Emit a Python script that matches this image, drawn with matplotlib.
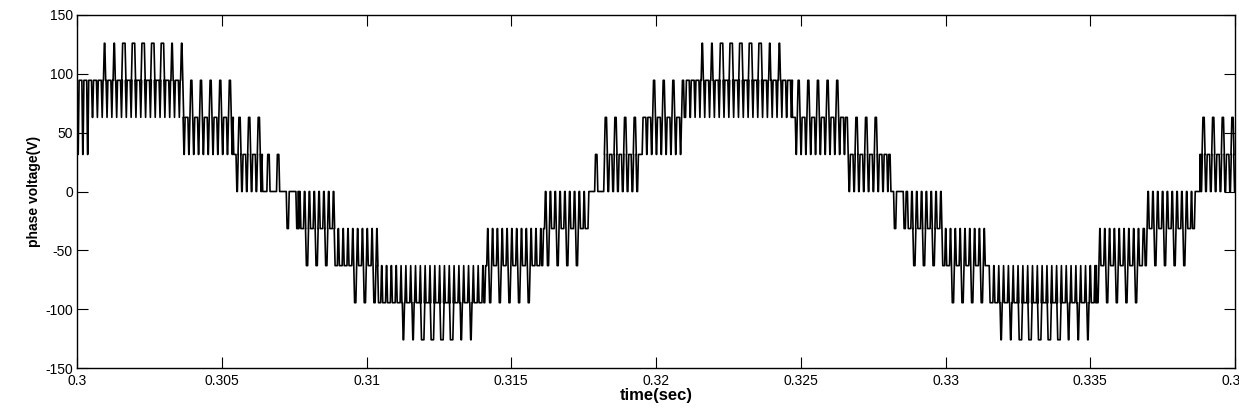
import numpy as np
import matplotlib
matplotlib.use("Agg")
import matplotlib.pyplot as plt

# ---- waveform description (9-level inverter phase voltage) ----
t_origin_s = 0.300          # start of the displayed window
level_step_v = 31.5         # voltage of one cell / level
carrier_period_ms = 0.333   # switching period of the outer pulses
outer_phase = 0.86          # outer pulse position inside a period
inner_phases = [0.11, 0.61] # inner pulses run at twice the rate
ramp_ms = 0.03              # finite edge time of the simulated switch

# segments: start time (ms after t_origin), levels (in cells) and pulse widths (fraction of period)
seg_start_ms = [0.00, 0.40, 0.62, 1.30, 3.00, 3.67, 5.40, 6.40,
                7.25, 7.65, 8.90, 9.30, 10.40, 11.10, 11.80, 13.20, 13.90, 14.10, 15.90, 16.10, 17.40,
                17.70, 18.20, 19.50, 19.65, 21.00, 21.30, 22.00, 23.70, 24.40, 24.70, 26.40, 26.60, 27.90,
                28.10, 28.70, 29.90, 30.10, 31.50, 31.80, 32.50, 34.20, 34.95, 35.20, 36.60, 36.85, 38.40,
                38.60, 38.80]
seg_top = [3, 3, 4, 4, 4, 3, 2, 1,
           0, 0, -1, -1, -2, -2, -2, -2, -2, -1, -1, 0, 0,
           1, 2, 2, 3, 3, 4, 4, 4, 3, 3, 2, 2, 1,
           0, 0, -1, -1, -2, -2, -2, -2, -2, -1, -1, 0, 0,
           1, 2]
seg_mid = [3, 3, 3, 3, 3, 2, 1, 0,
           0, -1, -2, -2, -3, -3, -3, -3, -3, -2, -2, -1, -1,
           0, 1, 2, 2, 3, 3, 3, 3, 3, 2, 2, 1, 1,
           0, -1, -2, -2, -3, -3, -3, -3, -3, -2, -2, -1, -1,
           0, 1]
seg_bot = [1, 2, 2, 2, 2, 1, 0, 0,
           -1, -2, -2, -3, -3, -4, -4, -4, -3, -3, -2, -2, -1,
           0, 0, 1, 1, 2, 2, 2, 2, 2, 1, 1, 0, 0,
           -1, -2, -2, -3, -3, -4, -4, -4, -3, -3, -2, -2, -1,
           0, 0]
# width of the pulses away from zero (outer) and towards zero (inner)
seg_outer_width = [0.14, 0.14, 0.14, 0.34, 0.14, 0.20, 0.22, 0.24,
                   0.22, 0.22, 0.20, 0.22, 0.24, 0.14, 0.34, 0.14, 0.18, 0.20, 0.18, 0.20, 0.18,
                   0.24, 0.22, 0.20, 0.20, 0.18, 0.14, 0.34, 0.14, 0.18, 0.20, 0.18, 0.22, 0.18,
                   0.22, 0.22, 0.20, 0.22, 0.24, 0.14, 0.34, 0.14, 0.18, 0.20, 0.18, 0.20, 0.18,
                   0.24, 0.22]
seg_inner_width = [0.12, 0.12, 0.10, 0.10, 0.10, 0.12, 0.14, 0.14,
                   0.14, 0.14, 0.12, 0.12, 0.12, 0.10, 0.10, 0.10, 0.12, 0.12, 0.12, 0.14, 0.12,
                   0.14, 0.16, 0.12, 0.12, 0.12, 0.10, 0.10, 0.10, 0.12, 0.12, 0.12, 0.14, 0.12,
                   0.14, 0.14, 0.12, 0.12, 0.12, 0.10, 0.10, 0.10, 0.12, 0.12, 0.12, 0.14, 0.12,
                   0.14, 0.16]
window_ms = 40.0

x_ticks = [0.300, 0.305, 0.310, 0.315, 0.320, 0.325, 0.330, 0.335, 0.340]
x_tick_labels = ["0.3", "0.305", "0.31", "0.315", "0.32", "0.325", "0.33", "0.335", "0.34"]
y_ticks = [-150, -100, -50, 0, 50, 100, 150]


def seg_index(t):
    return max(0, int(np.searchsorted(seg_start_ms, t, side="right")) - 1)


def build_waveform():
    T = carrier_period_ms
    pulses = []  # (start, end, level)
    n = int(window_ms / T) + 2
    for k in range(-1, n):
        events = [(outer_phase, "outer")] + [(p, "inner") for p in inner_phases]
        for phase, kind in events:
            c = (k + phase) * T
            if c < 0 or c > window_ms:
                continue
            i = seg_index(c)
            positive = (seg_top[i] + seg_bot[i]) > 0
            if kind == "outer":
                w = seg_outer_width[i] * T
                lvl = seg_top[i] if positive else seg_bot[i]
            else:
                w = seg_inner_width[i] * T
                lvl = seg_bot[i] if positive else seg_top[i]
            pulses.append((c - w / 2, c + w / 2, lvl))
    pulses.sort()
    bps = set(seg_start_ms) | {0.0, window_ms}
    for a, b, _ in pulses:
        bps.add(min(max(a, 0.0), window_ms))
        bps.add(min(max(b, 0.0), window_ms))
    bps = sorted(bps)
    starts = np.array([p[0] for p in pulses])
    vals = []
    for a, b in zip(bps[:-1], bps[1:]):
        m = 0.5 * (a + b)
        j = int(np.searchsorted(starts, m, side="right")) - 1
        if j >= 0 and pulses[j][0] <= m < pulses[j][1]:
            vals.append(pulses[j][2])
        else:
            vals.append(seg_mid[seg_index(m)])
    ts, vs = [bps[0]], [vals[0]]
    for j in range(1, len(vals)):
        if vals[j] != vals[j - 1]:
            t = bps[j]
            ts += [t - ramp_ms / 2, t + ramp_ms / 2]
            vs += [vals[j - 1], vals[j]]
    ts.append(bps[-1])
    vs.append(vals[-1])
    return (t_origin_s + np.array(ts) / 1000.0,
            np.array(vs, dtype=float) * level_step_v)


t_s, v = build_waveform()

plt.rcParams["font.family"] = ["Liberation Sans", "DejaVu Sans"]
plt.rcParams["axes.unicode_minus"] = False
fig = plt.figure(figsize=(12.39, 4.17), dpi=100)
ax = fig.add_axes([77 / 1239, 49 / 417, 1158 / 1239, 353 / 417])
ax.plot(t_s, v, color="black", lw=1.2)

ax.set_xlim(0.300, 0.340)
ax.set_ylim(-150, 150)
ax.set_xticks(x_ticks)
ax.set_xticklabels(x_tick_labels)
ax.set_yticks(y_ticks)
ax.tick_params(direction="in", top=True, right=True, length=8, width=0.8,
               labelsize=10, colors="black")
ax.tick_params(axis="x", pad=4)
ax.tick_params(axis="y", pad=3)
for s in ax.spines.values():
    s.set_linewidth(1.0)

ax.set_xlabel("time(sec)", fontsize=12, fontweight="bold", labelpad=0)
ax.set_ylabel("phase voltage(V)", fontsize=10, fontweight="bold", labelpad=3)

fig.savefig("out.png", dpi=100)
